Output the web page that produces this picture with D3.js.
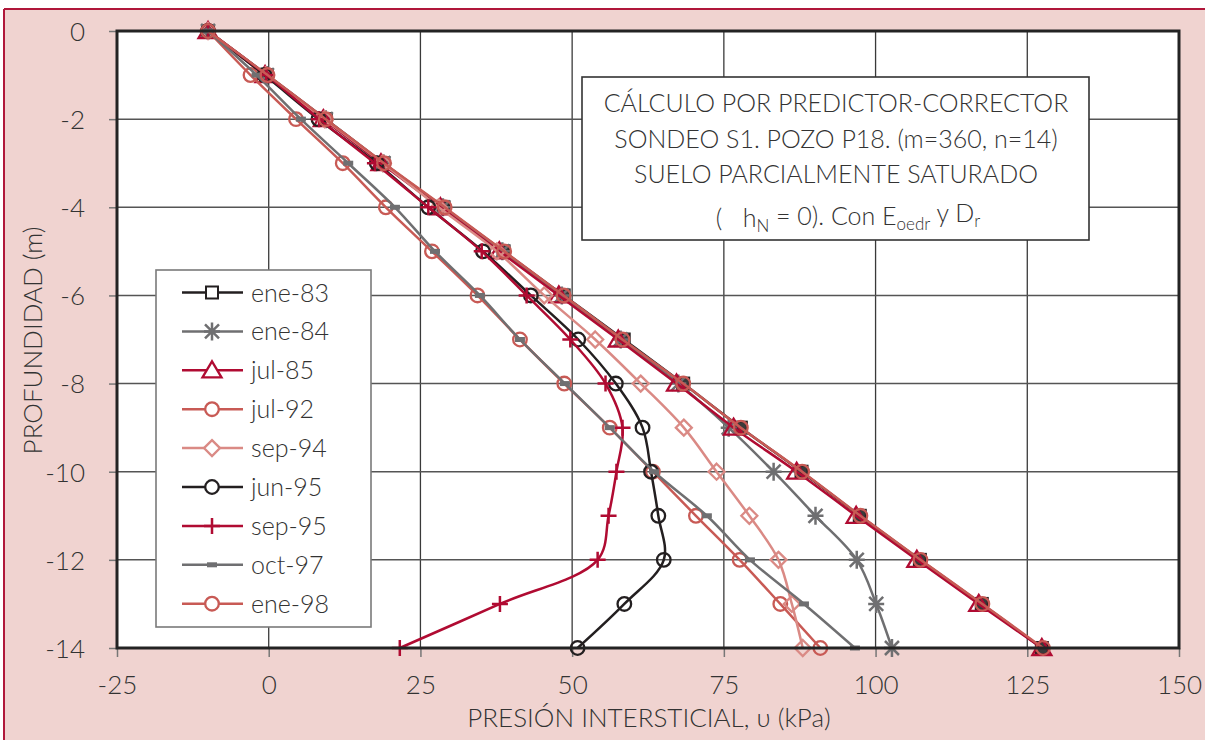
<!DOCTYPE html>
<html>
<head>
<meta charset="utf-8">
<script src="https://cdn.jsdelivr.net/npm/d3@7"></script>
<style>
  html, body { margin: 0; padding: 0; background: #ffffff; }
  svg text { font-family: Lato, "Open Sans", sans-serif; font-weight: 300; fill: #333333; }
</style>
</head>
<body>
<svg id="chart" width="1205" height="740"></svg>
<script>
// Depth of each reading (m) and pore pressure profiles (kPa)
const depths = [0, -1, -2, -3, -4, -5, -6, -7, -8, -9, -10, -11, -12, -13, -14];
const xTicks = [-25, 0, 25, 50, 75, 100, 125, 150];
const yTicks = [0, -2, -4, -6, -8, -10, -12, -14];

const ene83 = [-10, -0.3, 9.4, 18.9, 28.8, 38.7, 48.6, 58.5, 68.3, 77.8, 87.8, 97.4, 107.3, 117.5, 127.4];
const ene84 = [-10, -0.3, 9.4, 18.9, 28.7, 38.5, 48.3, 58.0, 67.5, 75.8, 83.2, 90.1, 96.9, 100.1, 102.7];
const jul85 = [-10, -0.6, 9.0, 18.5, 28.3, 38.0, 47.8, 57.6, 67.2, 76.6, 87.0, 96.8, 106.8, 117.0, 127.4];
const jul92 = [-10, -3.0, 4.5, 12.2, 19.3, 26.9, 34.4, 41.4, 48.7, 56.2, 63.3, 70.4, 77.6, 84.3, 90.9];
const sep94 = [-10, -0.5, 9.2, 18.8, 28.0, 37.6, 45.4, 53.8, 61.3, 68.4, 73.8, 79.2, 84.0, 86.2, 88.0];
const jun95 = [-10, -0.7, 8.2, 17.8, 26.3, 35.3, 43.2, 51.0, 57.2, 61.6, 63.0, 64.2, 65.1, 58.6, 50.9];
const sep95 = [-10, -0.4, 8.3, 17.5, 26.3, 35.1, 42.5, 49.7, 55.5, 58.3, 57.3, 56.0, 54.2, 38.1, 21.6];
const oct97 = [-10, -2.0, 5.3, 13.1, 20.8, 27.4, 34.8, 41.4, 48.8, 56.2, 63.5, 72.2, 79.3, 88.2, 96.6];
const ene98 = [-10, -0.2, 9.4, 19.0, 29.0, 38.8, 48.6, 58.3, 68.3, 77.8, 87.9, 97.5, 107.4, 117.6, 127.6];

const seriesNames = ["ene-83", "ene-84", "jul-85", "jul-92", "sep-94", "jun-95", "sep-95", "oct-97", "ene-98"];
const seriesValues = [ene83, ene84, jul85, jul92, sep94, jun95, sep95, oct97, ene98];

const boxLines = [
  "CÁLCULO POR PREDICTOR-CORRECTOR",
  "SONDEO S1. POZO P18. (m=360, n=14)",
  "SUELO PARCIALMENTE SATURADO"
];

// Styling per series
const BLACK = "#231f20", GREY = "#6f6f71", CRIMSON = "#b00b32", SALMON = "#c85a55", PINK = "#da8a85";
const styles = {
  "ene-83": { color: BLACK,   marker: "square" },
  "ene-84": { color: GREY,    marker: "asterisk" },
  "jul-85": { color: CRIMSON, marker: "triangle" },
  "jul-92": { color: SALMON,  marker: "circle" },
  "sep-94": { color: PINK,    marker: "diamond" },
  "jun-95": { color: BLACK,   marker: "circle" },
  "sep-95": { color: CRIMSON, marker: "plus" },
  "oct-97": { color: GREY,    marker: "dash" },
  "ene-98": { color: SALMON,  marker: "circle" }
};

const svg = d3.select("#chart");
const W = 1205, H = 740;
const m = { left: 117, top: 31, right: 1179, bottom: 648 };

// Outer panel
svg.append("rect").attr("x", 4).attr("y", 9).attr("width", W).attr("height", H).attr("fill", "#f0d3d0");
svg.append("line").attr("x1", 4).attr("x2", W).attr("y1", 9).attr("y2", 9).attr("stroke", "#b0173a").attr("stroke-width", 2);
svg.append("line").attr("x1", 4).attr("x2", 4).attr("y1", 9).attr("y2", H).attr("stroke", "#b0173a").attr("stroke-width", 2);

const x = d3.scaleLinear().domain([-25, 150]).range([m.left, m.right]);
const y = d3.scaleLinear().domain([0, -14]).range([m.top, m.bottom]);

// Plot area
svg.append("rect").attr("x", m.left).attr("y", m.top)
  .attr("width", m.right - m.left).attr("height", m.bottom - m.top).attr("fill", "#ffffff");

// Grid
const grid = svg.append("g");
grid.selectAll("line.v").data(xTicks.slice(1, -1)).join("line")
  .attr("x1", d => x(d)).attr("x2", d => x(d)).attr("y1", m.top).attr("y2", m.bottom)
  .attr("stroke", "#3a3a3a").attr("stroke-width", 1.3);
grid.selectAll("line.h").data(yTicks.slice(1, -1)).join("line")
  .attr("x1", m.left).attr("x2", m.right).attr("y1", d => y(d)).attr("y2", d => y(d))
  .attr("stroke", "#555555").attr("stroke-width", 1.5);

// Axes (plain hyphen for negative numbers)
const fmt = d => String(d);
const xAxis = svg.append("g").attr("transform", `translate(0,${m.bottom})`)
  .call(d3.axisBottom(x).tickValues(xTicks).tickSize(9).tickPadding(18).tickFormat(fmt));
const yAxis = svg.append("g").attr("transform", `translate(${m.left},0)`)
  .call(d3.axisLeft(y).tickValues(yTicks).tickSize(8).tickPadding(24).tickFormat(fmt));
[xAxis, yAxis].forEach(a => {
  a.select(".domain").remove();
  a.selectAll(".tick line").attr("stroke", "#777777").attr("stroke-width", 1.5);
  a.selectAll(".tick text").attr("font-size", 26).attr("fill", "#333333")
    .attr("font-family", "Lato, sans-serif").attr("font-weight", 300);
});
xAxis.selectAll(".tick text").attr("dy", "0.72em");
yAxis.selectAll(".tick text").attr("dy", "0.36em");

// Markers
function drawMarker(g, type, color, cx, cy, inLegend) {
  if (type === "square") {
    g.append("rect").attr("x", cx - 6).attr("y", cy - 6).attr("width", 12).attr("height", 12)
      .attr("fill", inLegend ? "#ffffff" : "#3a3a3a").attr("stroke", color).attr("stroke-width", 2);
  } else if (type === "circle") {
    g.append("circle").attr("cx", cx).attr("cy", cy).attr("r", 6.8)
      .attr("fill", inLegend ? "#ffffff" : "none").attr("stroke", color).attr("stroke-width", 2.3);
  } else if (type === "triangle") {
    g.append("path").attr("d", `M${cx},${cy - 9}L${cx + 9.5},${cy + 7}L${cx - 9.5},${cy + 7}Z`)
      .attr("fill", inLegend ? "#ffffff" : "none").attr("stroke", color).attr("stroke-width", 2.3);
  } else if (type === "diamond") {
    g.append("path").attr("d", `M${cx},${cy - 8}L${cx + 8},${cy}L${cx},${cy + 8}L${cx - 8},${cy}Z`)
      .attr("fill", inLegend ? "#ffffff" : "none").attr("stroke", color).attr("stroke-width", 2.3);
  } else if (type === "plus") {
    g.append("path").attr("d", `M${cx - 8},${cy}H${cx + 8}M${cx},${cy - 8}V${cy + 8}`)
      .attr("stroke", color).attr("stroke-width", 2.5);
  } else if (type === "asterisk") {
    g.append("path").attr("d",
      `M${cx - 8},${cy}H${cx + 8}M${cx},${cy - 9}V${cy + 9}` +
      `M${cx - 7},${cy - 7}L${cx + 7},${cy + 7}M${cx + 7},${cy - 7}L${cx - 7},${cy + 7}`)
      .attr("stroke", color).attr("stroke-width", 2.5);
  } else if (type === "dash") {
    g.append("rect").attr("x", cx - 5).attr("y", cy - 2.5).attr("width", 10).attr("height", 5)
      .attr("fill", color);
  }
}

// Series lines and markers
const line = d3.line().x(d => x(d[0])).y(d => y(d[1])).curve(d3.curveCatmullRom.alpha(0.5));
const plot = svg.append("g");
seriesNames.forEach((name, i) => {
  const st = styles[name];
  const pts = seriesValues[i].map((v, k) => [v, depths[k]]);
  const g = plot.append("g");
  g.append("path").attr("d", line(pts)).attr("fill", "none")
    .attr("stroke", st.color).attr("stroke-width", 2.5);
  pts.forEach(p => drawMarker(g, st.marker, st.color, x(p[0]), y(p[1]), false));
});

// Plot frame
svg.append("rect").attr("x", m.left).attr("y", m.top)
  .attr("width", m.right - m.left).attr("height", m.bottom - m.top)
  .attr("fill", "none").attr("stroke", "#232323").attr("stroke-width", 3);

// Axis titles
svg.append("text").attr("x", (x(-25) + x(150)) / 2 + 1).attr("y", 727)
  .attr("text-anchor", "middle").attr("font-size", 26).text("PRESIÓN INTERSTICIAL, υ (kPa)");
svg.append("text").attr("transform", `translate(42,${(y(0) + y(-14)) / 2 + 1}) rotate(-90)`)
  .attr("text-anchor", "middle").attr("font-size", 26).text("PROFUNDIDAD (m)");

// Legend
const lg = svg.append("g");
lg.append("rect").attr("x", 156).attr("y", 270).attr("width", 215).attr("height", 357)
  .attr("fill", "#ffffff").attr("stroke", "#7a7a7a").attr("stroke-width", 1.6);
seriesNames.forEach((name, i) => {
  const st = styles[name];
  const cy = 292.5 + i * 38.9;
  const g = lg.append("g");
  g.append("line").attr("x1", 182).attr("x2", 243).attr("y1", cy).attr("y2", cy)
    .attr("stroke", st.color).attr("stroke-width", 2.5);
  drawMarker(g, st.marker, st.color, 212, cy, true);
  g.append("text").attr("x", 251).attr("y", cy).attr("dy", "0.36em")
    .attr("font-size", 25).text(name);
});

// Annotation box
const bx = svg.append("g");
bx.append("rect").attr("x", 582).attr("y", 77).attr("width", 507).attr("height", 163)
  .attr("fill", "#ffffff").attr("stroke", "#333333").attr("stroke-width", 1.6);
const boxY = [103, 139, 174];
boxLines.forEach((t, i) => {
  bx.append("text").attr("x", 836).attr("y", boxY[i]).attr("dy", "0.36em")
    .attr("text-anchor", "middle").attr("font-size", 25).text(t);
});
const last = bx.append("text").attr("x", 848).attr("y", 218).attr("dy", "0.36em")
  .attr("text-anchor", "middle").attr("font-size", 25).attr("xml:space", "preserve");
last.append("tspan").text("(   h");
last.append("tspan").attr("font-size", 17).attr("dy", "0.3em").text("N");
last.append("tspan").attr("dy", "-0.3em").text(" = 0). Con E");
last.append("tspan").attr("font-size", 17).attr("dy", "0.3em").text("oedr");
last.append("tspan").attr("dy", "-0.3em").text(" y D");
last.append("tspan").attr("font-size", 17).attr("dy", "0.3em").text("r");
</script>
</body>
</html>
